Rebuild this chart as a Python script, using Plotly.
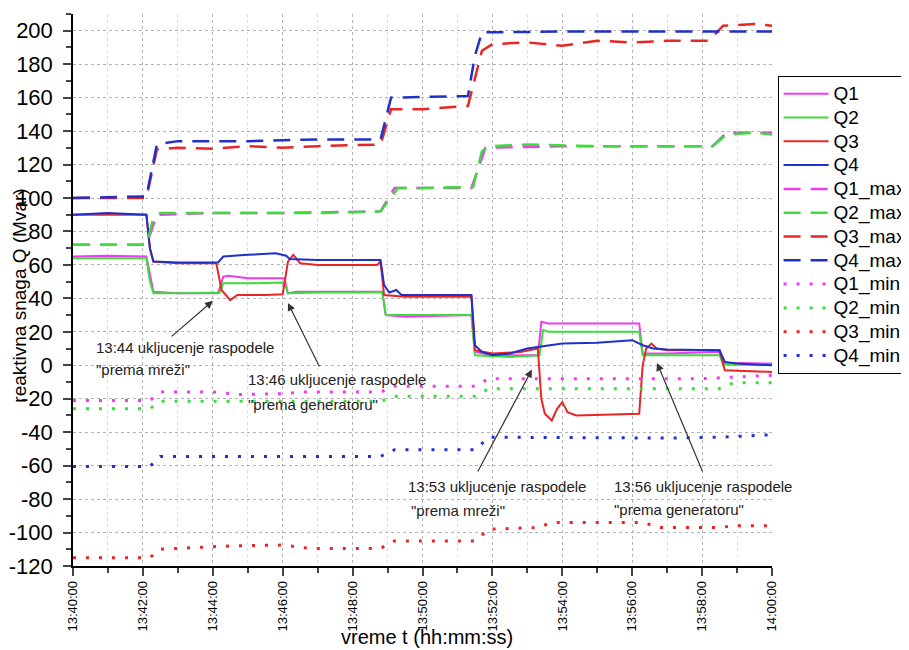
import plotly.graph_objects as go

# ---- data (time in minutes after 13:40:00) ----
x_tick_vals = [0, 2, 4, 6, 8, 10, 12, 14, 16, 18, 20]
x_tick_text = ["13:40:00", "13:42:00", "13:44:00", "13:46:00", "13:48:00", "13:50:00",
               "13:52:00", "13:54:00", "13:56:00", "13:58:00", "14:00:00"]
y_tick_vals = [-120, -100, -80, -60, -40, -20, 0, 20, 40, 60, 80, 100, 120, 140, 160, 180, 200]
y_tick_text = ["-120", "-100", "-80", "-60", "-40", "-20", "0", "20", "40", "60", "80",
               "100", "120", "140", "160", "180", "200"]

q1_t = [0, 1, 2.1, 2.2, 2.3, 3, 4.15, 4.3, 4.45, 5, 6.05, 6.15, 6.4, 7.5, 8.85, 8.95, 9.5, 11.4, 11.5, 12, 13.3, 13.4, 13.6, 16.2, 16.3, 17, 18.5, 18.6, 20]
q1_v = [65, 65.5, 65, 55, 44, 43, 43, 53, 53.5, 52, 52, 43, 44, 44, 44, 30, 29, 30, 8, 6, 6, 26, 25, 25, 7, 7, 8, 1.5, 1]

q2_t = [0, 2.1, 2.2, 2.3, 3, 4.2, 4.3, 5, 6.05, 6.15, 7, 8.85, 8.95, 11.4, 11.5, 12.5, 13.35, 13.45, 13.6, 16.2, 16.3, 18.5, 18.6, 20]
q2_v = [64, 64, 50, 43, 43, 43.5, 49, 49, 49.5, 43, 43.5, 43.5, 30, 30, 6, 5, 6, 21, 20, 20, 6, 6, 0.5, 0]

q3_t = [0, 2.1, 2.2, 2.3, 3, 4.1, 4.25, 4.5, 4.7, 5.5, 6.0, 6.15, 6.3, 6.5, 7, 8.7, 8.8, 8.9, 9.5, 11.4, 11.5, 12, 12.8, 13.3, 13.4, 13.5, 13.7, 13.85, 14.0, 14.15, 14.4, 16.2, 16.3, 16.4, 16.55, 16.7, 17, 18.5, 18.65, 20]
q3_v = [90, 90, 70, 62, 61, 61, 45, 39, 42, 42, 42.5, 62, 66, 61, 60, 60, 62, 42, 41, 41, 9, 7, 8, 10, -20, -29, -33, -26, -22, -28, -30, -29, 0, 10, 13, 10, 9, 9, -3, -4]

q4_t = [0, 1, 2.1, 2.2, 2.3, 3, 4.15, 4.3, 5, 5.8, 6.1, 6.2, 7, 8.8, 8.9, 9.05, 9.25, 9.4, 11.4, 11.5, 11.7, 12, 12.5, 13, 14, 15, 16, 16.3, 16.6, 17, 18.5, 18.65, 19, 20]
q4_v = [90, 91, 90, 70, 62, 61.5, 61.5, 65, 66, 67, 65.5, 63.5, 63, 63, 48, 43.5, 45, 42, 42, 12, 8, 6, 7, 10, 13, 13.5, 15, 12, 10, 9.5, 9, 2, 1, 0]

q1max_t = [0, 2.1, 2.4, 4, 6, 8.8, 9.2, 11.4, 11.8, 14, 16, 18.3, 18.7, 20]
q1max_v = [72, 72, 90, 91, 91, 92, 106, 106, 130, 131, 131, 131, 139, 139]

q2max_t = [0, 2.1, 2.3, 2.5, 5, 7, 8.8, 9.3, 10, 11.45, 11.7, 11.9, 13, 15, 17, 18.3, 18.7, 19.5, 20]
q2max_v = [72, 72, 88, 91, 91, 91, 92, 106, 106, 106.5, 128, 131, 132, 131, 131, 131, 138, 139, 138]

q3max_t = [0, 2.1, 2.4, 3, 4, 5, 6, 7, 8.8, 9.1, 10, 11.3, 11.7, 12, 13, 14, 15, 16, 17, 18.2, 18.6, 19.5, 20]
q3max_v = [100, 100, 129, 130, 129.5, 131, 130, 131, 132, 153, 153, 155, 188, 192, 193, 191, 194, 193, 194, 194, 203, 204, 203]

q4max_t = [0, 2.1, 2.4, 3, 5, 7, 8.8, 9.1, 11.3, 11.5, 11.7, 14, 17, 20]
q4max_v = [100, 101, 132, 134, 134, 135, 135, 160, 161, 185, 199, 199.5, 199.5, 199.5]

q1min_t = [0, 2.2, 2.5, 4, 4.8, 6, 6.5, 8.8, 9.2, 11.5, 11.9, 15, 18, 20]
q1min_v = [-21, -21, -16, -16, -17.5, -17, -16, -16, -12.5, -12.5, -8, -8, -8, -6]

q2min_t = [0, 2.2, 2.5, 8.8, 9.2, 11.5, 11.9, 18.5, 18.9, 20]
q2min_v = [-26, -26, -21.5, -21.5, -18.5, -18.5, -14, -14, -10.5, -10.5]

q3min_t = [0, 2.2, 2.5, 4.5, 6, 6.8, 8.8, 9.2, 11.5, 11.9, 13.3, 13.7, 16.3, 16.8, 18.5, 18.9, 20]
q3min_v = [-115, -115, -110, -108, -107.5, -109.5, -109.5, -105, -105, -98, -97, -94, -94, -97, -97, -96, -96]

q4min_t = [0, 2.2, 2.5, 8.8, 9.2, 11.5, 11.9, 17, 18.5, 20]
q4min_v = [-60.5, -60.5, -54.5, -54.5, -50.5, -50.5, -43, -43.5, -43, -41.5]

# annotations: (text, x, y)
ann_text = [
    ("13:44 ukljucenje raspodele", 0.60, 10.4),
    ("\"prema mreži\"", 0.60, -2.8),
    ("13:46 ukljucenje raspodele", 4.95, -8.7),
    ("\"prema generatoru\"", 4.95, -23.7),
    ("13:53 ukljucenje raspodele", 9.53, -72.7),
    ("\"prema mreži\"", 9.60, -87.0),
    ("13:56 ukljucenje raspodele", 15.42, -72.7),
    ("\"prema generatoru\"", 15.42, -86.5),
]
# arrows: (tip_x, tip_y, tail_x, tail_y)
arrows = [
    (4.0, 38.5, 2.78, 16.5),
    (6.15, 37.3, 7.07, -1.6),
    (13.13, -2.6, 11.56, -64.4),
    (16.71, 1.4, 18.03, -64.4),
]

MAG = "#f03cf0"
GRN = "#3ddc3d"
RED = "#e82626"
BLU = "#2030c8"

FONT = "Liberation Sans, Arial, sans-serif"


def lg(name):
    return '<span style="font-size:19px">' + name + '</span>'


fig = go.Figure()
solid = [("Q1", q1_t, q1_v, MAG), ("Q2", q2_t, q2_v, GRN), ("Q3", q3_t, q3_v, RED), ("Q4", q4_t, q4_v, BLU)]
dashed = [("Q1_max", q1max_t, q1max_v, MAG), ("Q2_max", q2max_t, q2max_v, GRN),
          ("Q3_max", q3max_t, q3max_v, RED), ("Q4_max", q4max_t, q4max_v, BLU)]
dotted = [("Q1_min", q1min_t, q1min_v, MAG), ("Q2_min", q2min_t, q2min_v, GRN),
          ("Q3_min", q3min_t, q3min_v, RED), ("Q4_min", q4min_t, q4min_v, BLU)]

for name, t, v, c in solid:
    fig.add_trace(go.Scatter(x=t, y=v, name=lg(name), mode="lines", line=dict(color=c, width=2)))
for name, t, v, c in dashed:
    fig.add_trace(go.Scatter(x=t, y=v, name=lg(name), mode="lines", line=dict(color=c, width=2.5, dash="17px,10px")))
for name, t, v, c in dotted:
    fig.add_trace(go.Scatter(x=t, y=v, name=lg(name), mode="lines", line=dict(color=c, width=3, dash="3px,10px")))

for txt, x, y in ann_text:
    fig.add_annotation(x=x, y=y, text=txt, showarrow=False, xanchor="left", yanchor="middle",
                       font=dict(family=FONT, size=15, color="#222222"))
for tx, ty, ax, ay in arrows:
    fig.add_annotation(x=tx, y=ty, ax=ax, ay=ay, axref="x", ayref="y", text="", showarrow=True,
                       arrowhead=2, arrowsize=1.3, arrowwidth=1.2, arrowcolor="#333333")

# axis titles as paper annotations
fig.add_annotation(xref="paper", yref="paper", x=0.506, y=-0.1286, text="vreme t (hh:mm:ss)",
                   showarrow=False, xanchor="center", yanchor="middle",
                   font=dict(family=FONT, size=20, color="black"))
fig.add_annotation(xref="paper", yref="paper", x=-0.077, y=0.49, text="reaktivna snaga Q (Mvar)",
                   textangle=-90, showarrow=False, xanchor="center", yanchor="middle",
                   font=dict(family=FONT, size=19, color="black"))

fig.update_layout(
    width=901, height=642,
    margin=dict(l=65, r=137, t=6, b=84, autoexpand=False),
    paper_bgcolor="white", plot_bgcolor="white",
    font=dict(family=FONT, color="black"),
    showlegend=True,
    legend=dict(x=1.008, y=0.888, xanchor="left", yanchor="top",
                bgcolor="white", bordercolor="black", borderwidth=1, itemwidth=45,
                font=dict(family=FONT, size=16, color="black"), tracegroupgap=0),
    xaxis=dict(range=[0, 20], tickvals=x_tick_vals, ticktext=x_tick_text, tickangle=-90,
               tickfont=dict(family=FONT, size=13), ticks="outside", ticklen=8, tickwidth=1.5,
               showline=True, linecolor="black", linewidth=1.5, zeroline=False,
               showgrid=True, gridcolor="#b4b4b4", griddash="dot", gridwidth=1,
               minor=dict(dtick=1, tick0=0, ticks="outside", ticklen=5, tickwidth=1.5,
                          showgrid=True, gridcolor="#dcdcdc", griddash="dot"),
               automargin=False),
    yaxis=dict(range=[-120, 210], tickvals=y_tick_vals, ticktext=y_tick_text,
               tickfont=dict(family=FONT, size=22), ticks="outside", ticklen=8, tickwidth=1.5,
               ticklabelstandoff=6,
               showline=True, linecolor="black", linewidth=1.5, zeroline=False,
               showgrid=True, gridcolor="#b4b4b4", griddash="dot", gridwidth=1,
               minor=dict(dtick=10, tick0=0, ticks="outside", ticklen=5, tickwidth=1.5, showgrid=False),
               automargin=False),
)

fig.write_html("out.html")
